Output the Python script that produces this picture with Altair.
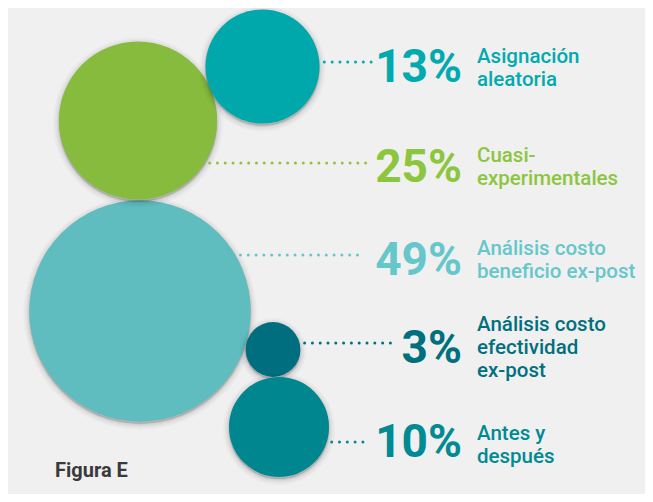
import math
import altair as alt
import pandas as pd

# ---- data -------------------------------------------------------------
methods = [
    "Asignación\naleatoria",
    "Cuasi-\nexperimentales",
    "Análisis costo\nbeneficio ex-post",
    "Análisis costo\nefectividad\nex-post",
    "Antes y\ndespués",
]
shares = [13, 25, 49, 3, 10]
share_labels = ["13%", "25%", "49%", "3%", "10%"]

# ---- styles -----------------------------------------------------------
circle_colors = ["#00a8ab", "#86bb3d", "#5fbdbf", "#006e7f", "#00868f"]
text_colors = ["#00aaae", "#8cc63f", "#66c7cb", "#00707f", "#008a93"]
z_order = [2, 1, 0, 3, 4]  # drawing order (big bubble at the back)

# ---- layout (chart pixel space) --------------------------------------
bubble_x = [254.5, 130, 132, 265, 271]
bubble_y = [58.5, 112.5, 303, 341.5, 419]
leader_y = [54, 155, 247, 335, 434]
leader_end = [364, 363, 357, 385, 359]
pct_baseline = [74, 174, 267, 355, 449]
label_baseline = [55, 154, 247, 323, 432]
PCT_RIGHT = 454
LABEL_LEFT = 469
W, H = 637, 486
AREA_PER_PCT = 250.0  # r^2 (px^2) per percentage point

df = pd.DataFrame({
    "method": methods, "share": shares, "label": share_labels,
    "ccolor": circle_colors, "tcolor": text_colors, "z": z_order,
    "bx": bubble_x, "by": bubble_y, "ly": leader_y, "lx2": leader_end,
    "py": pct_baseline, "ty": label_baseline,
})
df["px"] = PCT_RIGHT
df["tx"] = LABEL_LEFT
df["lx1"] = [
    bx + math.sqrt(max(AREA_PER_PCT * s - (ly - by) ** 2, 0)) + 5
    for bx, by, ly, s in zip(df.bx, df.by, df.ly, df.share)
]

xs = alt.Scale(domain=[0, W])
ys = alt.Scale(domain=[0, H], reverse=True)
size_scale = alt.Scale(type="linear", domain=[0, 100], range=[0, 4 * AREA_PER_PCT * 100])

base = alt.Chart(df)

layers = []
for z in sorted(z_order):
    sub = base.transform_filter(alt.datum.z == z)
    enc = dict(
        x=alt.X("bx:Q", scale=xs, axis=None),
        y=alt.Y("by:Q", scale=ys, axis=None),
        size=alt.Size("share:Q", scale=size_scale, legend=None),
    )
    for w, op in [(12, 0.025), (8, 0.035), (4, 0.05), (1.5, 0.07)]:
        layers.append(
            sub.mark_circle(stroke="black", strokeWidth=w, strokeOpacity=op,
                            fill="black", fillOpacity=0.04, yOffset=2)
            .encode(**enc)
        )
    layers.append(
        sub.mark_circle(opacity=1).encode(
            **enc, color=alt.Color("ccolor:N", scale=None)
        )
    )

leaders = base.mark_rule(strokeWidth=3, strokeCap="round", strokeDash=[0, 7.8]).encode(
    x=alt.X("lx1:Q", scale=xs, axis=None),
    x2="lx2:Q",
    y=alt.Y("ly:Q", scale=ys, axis=None),
    color=alt.Color("tcolor:N", scale=None),
)

pct = base.mark_text(align="right", baseline="alphabetic", font="Roboto",
                     fontSize=46, fontWeight="bold").encode(
    x=alt.X("px:Q", scale=xs, axis=None),
    y=alt.Y("py:Q", scale=ys, axis=None),
    text="label:N",
    color=alt.Color("tcolor:N", scale=None),
)

names = base.mark_text(align="left", baseline="alphabetic", font="Roboto",
                       fontSize=20.5, fontWeight=500, lineBreak="\n",
                       lineHeight=23).encode(
    x=alt.X("tx:Q", scale=xs, axis=None),
    y=alt.Y("ty:Q", scale=ys, axis=None),
    text="method:N",
    color=alt.Color("tcolor:N", scale=None),
)

fig_df = pd.DataFrame({"x": [47], "y": [469], "t": ["Figura E"]})
fig = alt.Chart(fig_df).mark_text(align="left", baseline="alphabetic", font="Roboto",
                                  fontSize=20, fontWeight="bold", color="#3a3a3a").encode(
    x=alt.X("x:Q", scale=xs, axis=None),
    y=alt.Y("y:Q", scale=ys, axis=None),
    text="t:N",
)

chart = alt.layer(*layers, leaders, pct, names, fig).properties(
    width=W, height=H, padding=0, background="#f0f0f0",
    autosize=alt.AutoSizeParams(type="none"),
).configure_view(stroke=None)

chart.save("out.html", embed_options={"renderer": "svg", "actions": False})
